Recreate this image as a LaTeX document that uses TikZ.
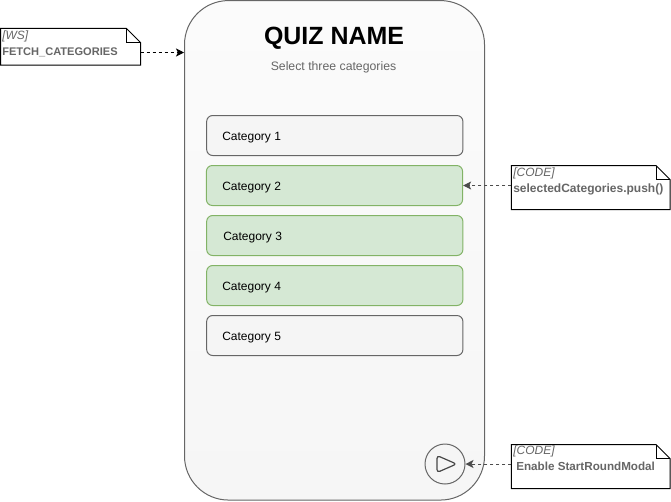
\documentclass[tikz,border=0pt]{standalone}
\usepackage{fontspec}
\setmainfont{Liberation Sans}
\definecolor{gtxt}{HTML}{666666}
\definecolor{gfill}{HTML}{F5F5F5}
\definecolor{grfill}{HTML}{D5E8D4}
\definecolor{grline}{HTML}{82B366}
\definecolor{phonetop}{HTML}{FBFBFB}
\definecolor{phonebot}{HTML}{F6F6F6}
\usetikzlibrary{arrows.meta}
\tikzset{
 px/.style={x=0.75pt,y=-0.75pt},
 catbox/.style={draw=gtxt,fill=gfill,rounded corners=4.5pt,minimum width=192.2pt,minimum height=30pt,inner sep=0pt,line width=0.75pt},
 catgreen/.style={catbox,draw=grline,fill=grfill},
 catlabel/.style={anchor=west,font=\fontsize{9}{11}\selectfont,text=black,inner sep=0pt},
 notebox/.style={minimum height=#1,inner sep=0pt,outer sep=0pt},
 notetext/.style={anchor=north west,align=left,inner sep=0pt,text=gtxt,font=\fontsize{9}{12}\selectfont},
 conn/.style={dash pattern=on 2.25pt off 2.25pt,line width=0.75pt,-{Stealth[length=6pt,width=6pt,inset=1.5pt]}},
 connsoft/.style={conn,draw=black!70},
 noteline/.style={draw=black,fill=white,line width=0.75pt,line join=miter},
}
\newcommand{\foldnote}[1]{%
 \draw[noteline] (#1.north west) -- ([xshift=-10.5pt]#1.north east) -- ([yshift=-10.5pt]#1.north east) -- (#1.south east) -- (#1.south west) -- cycle;
 \draw[noteline,fill=none] ([xshift=-10.5pt]#1.north east) -- ([xshift=-10.5pt,yshift=-10.5pt]#1.north east) -- ([yshift=-10.5pt]#1.north east);
}
\begin{document}
\begin{tikzpicture}[px]
\useasboundingbox (0,0) rectangle (671,501);
\node[draw=gtxt,top color=phonetop,bottom color=phonebot,rounded corners=33pt,minimum width=225pt,minimum height=374.6pt,inner sep=0pt,line width=0.75pt] (phone) at (334.5,250.3) {};
\node[font=\bfseries\fontsize{18.7}{22}\selectfont,text=black,inner sep=0pt] (title) at (334,38.5) {QUIZ NAME};
\node[font=\fontsize{9.2}{11}\selectfont,text=gtxt,inner sep=0pt] (sub) at (333.5,67) {Select three categories};

\node[catbox] (cat1) at (334.8,135.5) {};
\node[catgreen] (cat2) at (334.5,185.5) {};
\node[catgreen] (cat3) at (334.8,235.5) {};
\node[catgreen] (cat4) at (334.8,285.5) {};
\node[catbox] (cat5) at (334.8,335.5) {};
\node[catlabel] (l1) at (222,137.5) {Category 1};
\node[catlabel] (l2) at (222,187.5) {Category 2};
\node[catlabel] (l3) at (223,237.5) {Category 3};
\node[catlabel] (l4) at (222,287.5) {Category 4};
\node[catlabel] (l5) at (222,337.5) {Category 5};

\node[circle,draw=gtxt,fill=gfill,minimum size=30pt,inner sep=0pt,line width=0.75pt] (play) at (445,464) {};
\draw[draw=gtxt!70!black,line width=0.9pt,rounded corners=2.2pt,line join=round] (437,455.5) -- (456.5,464) -- (437,472.5) -- cycle;

\node[notebox=27.4pt,minimum width=105pt] (n1) at (70.5,46.75) {};
\foldnote{n1}
\node[notetext] (t1) at (2,30.5) {\textit{[WS]}\\\fontsize{8.3}{12}\selectfont\textbf{FETCH\_CATEGORIES}};
\node[notebox=33pt,minimum width=118.9pt] (n2) at (590.75,187.5) {};
\foldnote{n2}
\node[notetext] (t2) at (513,167.5) {\textit{[CODE]}\\\textbf{selectedCategories.push()}};
\node[notebox=33pt,minimum width=118.9pt] (n3) at (590.75,466.5) {};
\foldnote{n3}
\node[notetext] (t3) at (513,445.5) {\textit{[CODE]}\\\hspace*{2.25pt}\fontsize{8.75}{12}\selectfont\textbf{Enable StartRoundModal}};

\coordinate (wsout) at (140.5,52.5);
\draw[conn] (wsout) -- (phone.west |- wsout);
\draw[connsoft] (n2.west |- cat2.east) -- (cat2.east);
\draw[connsoft] (n3.west |- play.east) -- (play.east);
\end{tikzpicture}
\end{document}
